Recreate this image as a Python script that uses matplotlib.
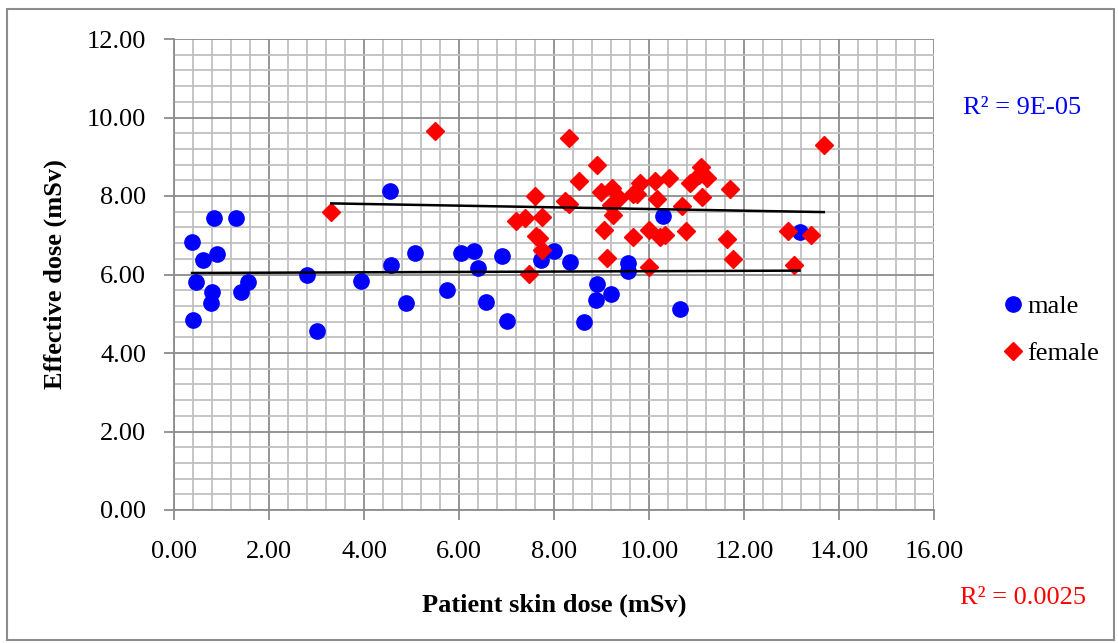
import numpy as np
import matplotlib
matplotlib.use("Agg")
import matplotlib.pyplot as plt
from matplotlib.ticker import MultipleLocator, FormatStrFormatter
from matplotlib.patches import Rectangle

male_x = [0.38, 0.46, 0.41, 0.62, 0.84, 0.91, 0.81, 0.77, 1.30, 1.40, 1.56,
          2.81, 3.00, 3.94, 4.55, 4.57, 4.89, 5.08, 5.74, 6.04, 6.31, 6.39,
          6.56, 6.90, 7.00, 7.72, 7.99, 8.33, 8.64, 8.91, 8.89, 9.21, 9.56,
          9.56, 10.29, 10.65, 13.17]
male_y = [6.84, 5.80, 4.83, 6.36, 7.45, 6.51, 5.55, 5.27, 7.45, 5.56, 5.81,
          6.00, 4.55, 5.83, 8.14, 6.23, 5.27, 6.56, 5.61, 6.55, 6.59, 6.16,
          5.30, 6.48, 4.82, 6.37, 6.59, 6.31, 4.79, 5.76, 5.34, 5.50, 6.30,
          6.10, 7.50, 5.13, 7.08]

female_x = [3.31, 5.49, 7.20, 7.39, 7.48, 7.59, 7.62, 7.69, 7.74, 7.75, 8.24,
            8.32, 8.32, 8.52, 8.90, 8.99, 9.05, 9.11, 9.20, 9.23, 9.25, 9.37,
            9.66, 9.66, 9.74, 9.80, 10.00, 10.01, 10.13, 10.16, 10.23, 10.34,
            10.43, 10.69, 10.78, 10.86, 11.06, 11.09, 11.11, 11.23, 11.65,
            11.71, 11.77, 12.93, 13.05, 13.40, 13.68]
female_y = [7.60, 9.66, 7.36, 7.43, 6.01, 8.01, 6.98, 6.92, 6.62, 7.46, 7.86,
            7.79, 9.47, 8.38, 8.79, 8.09, 7.14, 6.43, 7.77, 8.20, 7.52, 7.94,
            8.04, 6.95, 8.04, 8.32, 7.13, 6.20, 8.38, 7.92, 6.95, 7.01, 8.45,
            7.75, 7.12, 8.32, 8.53, 8.73, 7.98, 8.45, 6.90, 8.17, 6.39, 7.12,
            6.24, 7.01, 9.30]

labels = ["male", "female"]
r2_texts = ["R² = 9E-05", "R² = 0.0025"]

plt.rcParams['font.family'] = ['Liberation Serif', 'DejaVu Serif']

FS = 19
W, H = 1118, 643
fig = plt.figure(figsize=(W / 100, H / 100), dpi=100)
ax = fig.add_axes([174 / W, 1 - 510 / H, (934 - 174) / W, (510 - 39) / H])

ax.set_xlim(0, 16)
ax.set_ylim(0, 12)
ax.xaxis.set_major_locator(MultipleLocator(2))
ax.xaxis.set_minor_locator(MultipleLocator(0.4))
ax.yaxis.set_major_locator(MultipleLocator(2))
ax.yaxis.set_minor_locator(MultipleLocator(0.4))
ax.xaxis.set_major_formatter(FormatStrFormatter('%.2f'))
ax.yaxis.set_major_formatter(FormatStrFormatter('%.2f'))
ax.grid(which='minor', color='#c0c0c0', linewidth=1.3, zorder=0)
ax.grid(which='major', color='#8c8c8c', linewidth=1.3, zorder=0)
ax.set_axisbelow(True)
for s in ['top', 'right']:
    ax.spines[s].set_visible(False)
for s in ['left', 'bottom']:
    ax.spines[s].set_color('#8c8c8c')
    ax.spines[s].set_linewidth(1.3)
ax.tick_params(which='major', direction='out', length=7, width=1.3,
               color='#8c8c8c', labelsize=FS)
ax.tick_params(axis='x', which='major', pad=15)
ax.tick_params(axis='y', which='major', pad=13)
ax.tick_params(which='minor', length=0)

ax.plot(male_x, male_y, linestyle='none', marker='o', markersize=11,
        color='#0000ff', label=labels[0], zorder=3)
ax.plot(female_x, female_y, linestyle='none', marker='D', markersize=9,
        color='#ff0000', label=labels[1], zorder=3)

for xs, ys in [(male_x, male_y), (female_x, female_y)]:
    xs_a = np.array(xs)
    p = np.polyfit(xs_a, np.array(ys), 1)
    xl = np.array([xs_a.min(), xs_a.max()])
    ax.plot(xl, np.polyval(p, xl), color='black', linewidth=1.8, zorder=4)

ax.set_xlabel("Patient skin dose (mSv)", fontsize=FS, fontweight='bold',
              labelpad=22)
ax.set_ylabel("Effective dose (mSv)", fontsize=FS, fontweight='bold',
              labelpad=14)

fig.legend(loc='center left', bbox_to_anchor=(992 / W, 1 - 330 / H),
           frameon=False, fontsize=FS, handlelength=0.6, handletextpad=0.25,
           labelspacing=0.9, borderpad=0)

fig.text(1022 / W, 1 - 108 / H, r2_texts[0], color='#0000ff', fontsize=FS,
         ha='center', va='center')
fig.text(1023 / W, 1 - 598 / H, r2_texts[1], color='#ff0000', fontsize=FS,
         ha='center', va='center')

fig.add_artist(Rectangle((7 / W, 1 - 640 / H), (1114 - 7) / W, (640 - 9) / H,
                         transform=fig.transFigure, fill=False,
                         edgecolor='#8c8c8c', linewidth=1.5))

fig.savefig("out.png", dpi=100)
